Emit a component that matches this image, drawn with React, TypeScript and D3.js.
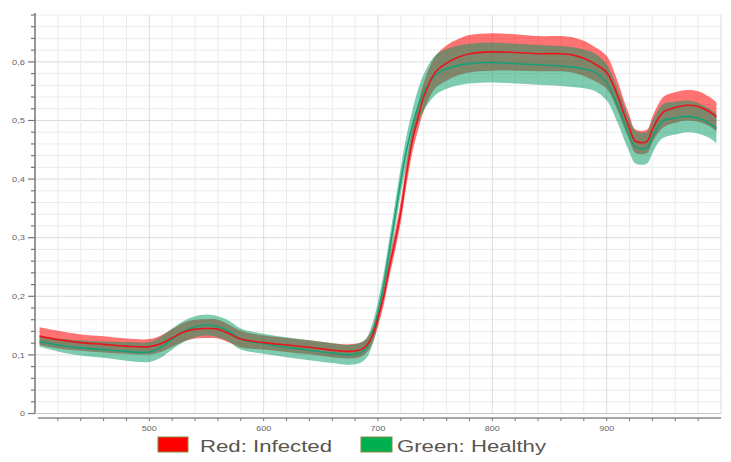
import React from 'react';
import * as d3 from 'd3';

// wavelength (nm) sample points
const wavelengths = [404, 420, 440, 460, 480, 500, 510, 520, 530, 540, 550, 560, 570, 580, 600, 620, 640, 660, 675, 685, 690, 695, 700, 705, 710, 715, 720, 725, 730, 735, 740, 750, 760, 770, 780, 800, 820, 840, 860, 870, 880, 890, 900, 910, 915, 920, 925, 935, 940, 945, 950, 960, 970, 980, 990, 996];

// infected (red) mean reflectance and half-width of its band
const infectedMean = [0.132, 0.126, 0.121, 0.118, 0.115, 0.114, 0.119, 0.129, 0.139, 0.144, 0.145, 0.144, 0.136, 0.127, 0.121, 0.117, 0.113, 0.108, 0.106, 0.109, 0.116, 0.132, 0.163, 0.2, 0.25, 0.295, 0.345, 0.41, 0.465, 0.505, 0.54, 0.582, 0.598, 0.608, 0.614, 0.617, 0.616, 0.614, 0.614, 0.612, 0.606, 0.596, 0.582, 0.54, 0.512, 0.487, 0.465, 0.464, 0.485, 0.503, 0.515, 0.522, 0.526, 0.524, 0.515, 0.506];
const infectedSpread = [0.015, 0.015, 0.014, 0.014, 0.013, 0.013, 0.014, 0.015, 0.016, 0.016, 0.016, 0.016, 0.015, 0.014, 0.012, 0.012, 0.012, 0.012, 0.012, 0.012, 0.012, 0.013, 0.014, 0.015, 0.016, 0.017, 0.018, 0.019, 0.02, 0.022, 0.024, 0.027, 0.03, 0.031, 0.032, 0.032, 0.031, 0.03, 0.03, 0.03, 0.03, 0.029, 0.028, 0.025, 0.023, 0.021, 0.02, 0.02, 0.022, 0.024, 0.026, 0.026, 0.026, 0.026, 0.025, 0.025];

// healthy (green) mean reflectance and half-width of its band
const healthyMean = [0.123, 0.117, 0.112, 0.109, 0.106, 0.105, 0.113, 0.127, 0.14, 0.148, 0.151, 0.148, 0.14, 0.127, 0.119, 0.113, 0.108, 0.103, 0.1, 0.104, 0.112, 0.135, 0.172, 0.22, 0.278, 0.338, 0.398, 0.45, 0.49, 0.524, 0.548, 0.577, 0.588, 0.594, 0.597, 0.599, 0.597, 0.595, 0.593, 0.591, 0.588, 0.582, 0.565, 0.523, 0.498, 0.474, 0.455, 0.453, 0.472, 0.49, 0.5, 0.504, 0.507, 0.504, 0.495, 0.486];
const healthySpread = [0.009, 0.011, 0.013, 0.014, 0.016, 0.017, 0.018, 0.018, 0.018, 0.018, 0.018, 0.018, 0.018, 0.018, 0.017, 0.017, 0.017, 0.017, 0.017, 0.017, 0.017, 0.018, 0.019, 0.02, 0.021, 0.022, 0.023, 0.025, 0.027, 0.029, 0.031, 0.034, 0.034, 0.034, 0.034, 0.034, 0.034, 0.034, 0.034, 0.034, 0.033, 0.032, 0.031, 0.029, 0.029, 0.028, 0.028, 0.027, 0.028, 0.028, 0.029, 0.028, 0.027, 0.026, 0.025, 0.025];

const xTicks = [500, 600, 700, 800, 900];
const yTicks = [0, 0.1, 0.2, 0.3, 0.4, 0.5, 0.6];
const yTickLabels = ['0', '0,1', '0,2', '0,3', '0,4', '0,5', '0,6'];
const legendLabels = ['Red: Infected', 'Green: Healthy'];

const W = 731;
const H = 462;

export default function App() {
  const x = d3.scaleLinear().domain([400, 1000]).range([35, 721]);
  const y = d3.scaleLinear().domain([0, 0.68]).range([413.5, 15]);

  const minorX = d3.range(420, 1001, 20);
  const minorY = d3.range(0, 0.681, 0.02);

  const idx = wavelengths.map((_, i) => i);
  const curve = d3.curveCatmullRom.alpha(0.5);

  const band = (mean: number[], spread: number[]) =>
    d3.area<number>()
      .x(i => x(wavelengths[i]))
      .y0(i => y(mean[i] - spread[i]))
      .y1(i => y(mean[i] + spread[i]))
      .curve(curve)(idx) || '';

  const line = (mean: number[]) =>
    d3.line<number>()
      .x(i => x(wavelengths[i]))
      .y(i => y(mean[i]))
      .curve(curve)(idx) || '';

  const axisY = 418;

  return (
    <svg width={W} height={H} style={{ position: 'absolute', left: 0, top: 0, background: '#fff' }}
      fontFamily="'Liberation Sans', Arial, sans-serif">
      {/* grid */}
      <g>
        {minorY.map((v, i) => (
          <line key={'gy' + i} x1={35} x2={721} y1={y(v)} y2={y(v)}
            stroke={i % 5 === 0 ? '#dcdcdc' : '#ececec'} strokeWidth={1} />
        ))}
        {minorX.map(v => (
          <line key={'gx' + v} x1={x(v)} x2={x(v)} y1={y(0.68)} y2={y(0)}
            stroke={v % 100 === 0 ? '#dcdcdc' : '#ececec'} strokeWidth={1} />
        ))}
      </g>

      {/* bands */}
      <path d={band(infectedMean, infectedSpread)} fill="#ff0000" fillOpacity={0.55} />
      <path d={band(healthyMean, healthySpread)} fill="#009a62" fillOpacity={0.5} />

      {/* mean lines */}
      <path d={line(healthyMean)} fill="none" stroke="#17a078" strokeWidth={1.6} />
      <path d={line(infectedMean)} fill="none" stroke="#e8161c" strokeWidth={1.6} />

      {/* y axis */}
      <line x1={35} x2={35} y1={13} y2={y(0)} stroke="#777" strokeWidth={1.5} />
      <line x1={35} x2={721} y1={y(0)} y2={y(0)} stroke="#c8c8c8" strokeWidth={1} />
      {minorY.map((v, i) => (
        <line key={'ty' + i} x1={i % 5 === 0 ? 28 : 31} x2={35} y1={y(v)} y2={y(v)}
          stroke="#777" strokeWidth={1.2} />
      ))}
      {yTicks.map((v, i) => (
        <text key={'ly' + i} x={25} y={y(v)} dy="0.35em" textAnchor="end" fontSize={7.5}
          fill="#666" textLength={yTickLabels[i].length > 1 ? 13 : 5} lengthAdjust="spacingAndGlyphs">
          {yTickLabels[i]}
        </text>
      ))}

      {/* x axis */}
      <line x1={38} x2={721} y1={axisY} y2={axisY} stroke="#888" strokeWidth={1.5} />
      {minorX.filter(v => v < 1000).map(v => (
        <line key={'tx' + v} x1={x(v)} x2={x(v)} y1={axisY} y2={axisY + 3}
          stroke="#777" strokeWidth={1} />
      ))}
      {xTicks.map(v => (
        <text key={'lx' + v} x={x(v)} y={431} textAnchor="middle" fontSize={7.5} fill="#666"
          textLength={15} lengthAdjust="spacingAndGlyphs">
          {v}
        </text>
      ))}

      {/* legend */}
      <rect x={158} y={437} width={30} height={15} fill="#ff0000" stroke="#8a8a3e" strokeWidth={1} />
      <text x={200} y={452} fontSize={17} fill="#5a5550" textLength={132} lengthAdjust="spacingAndGlyphs">
        {legendLabels[0]}
      </text>
      <rect x={361} y={437} width={31} height={15} fill="#00b050" stroke="#8a8a3e" strokeWidth={1} />
      <text x={397} y={452} fontSize={17} fill="#5a5550" textLength={149} lengthAdjust="spacingAndGlyphs">
        {legendLabels[1]}
      </text>
    </svg>
  );
}
